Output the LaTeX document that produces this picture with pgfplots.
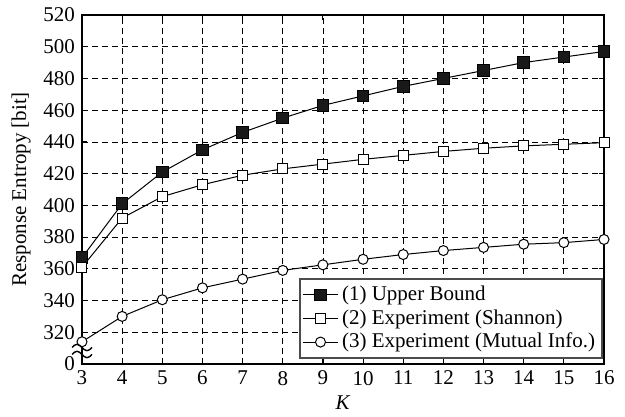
\documentclass[border=0pt]{standalone}
\usepackage{fontspec}
\setmainfont{Liberation Serif}
\usepackage{pgfplots}
\pgfplotsset{compat=1.18}
\begin{document}
\begin{tikzpicture}[font=\fontsize{10.5}{12.5}\selectfont]
\begin{axis}[
  name=ax,
  scale only axis, width=261pt, height=174.5pt,
  xmin=3, xmax=16, ymin=300, ymax=520,
  xtick={3,4,...,16},
  ytick={300,320,...,520},
  yticklabels={0,320,340,360,380,400,420,440,460,480,500,520},
  /pgf/number format/assume math mode=true,
  xlabel={\textit{K}},
  ylabel={Response Entropy [bit]},
  xlabel style={yshift=1.5pt},
  ylabel style={yshift=-0.5pt},
  tick align=inside,
  major tick length=2.5pt,
  tick style={line width=0.5pt, black},
  axis line style={line width=0.8pt},
  grid=major,
  major grid style={densely dashed, line width=0.4pt, black},
  legend cell align=left,
  legend style={at={(0.998,0.015)}, anchor=south east, draw=black!70,
    line width=0.8pt, inner sep=1.5pt, row sep=-1pt,
    font=\fontsize{10.5}{12.5}\selectfont},
  clip=false,
]
\addplot[black, line width=0.5pt, mark=square*, mark size=2.9pt,
  mark options={fill=black!90}] coordinates {
  (3,367) (4,401) (5,421) (6,435) (7,446) (8,455) (9,463) (10,469)
  (11,475) (12,480) (13,485) (14,490) (15,493.5) (16,497)};
\addlegendentry{(1) Upper Bound}
\addplot[black, line width=0.5pt, mark=square*, mark size=2.5pt,
  mark options={fill=white}] coordinates {
  (3,361) (4,392) (5,405.5) (6,413) (7,419) (8,423) (9,426) (10,429)
  (11,431.5) (12,434) (13,436) (14,437.5) (15,438.5) (16,439.5)};
\addlegendentry{(2) Experiment (Shannon)}
\addplot[black, line width=0.5pt, mark=*, mark size=2.5pt,
  mark options={fill=white}] coordinates {
  (3,314) (4,330) (5,340.5) (6,348) (7,353.5) (8,359) (9,362.5) (10,366)
  (11,369) (12,371.5) (13,373.5) (14,375.5) (15,376.5) (16,378.5)};
\addlegendentry{(3) Experiment (Mutual Info.)}
\coordinate (brk) at (axis cs:3,306);
\end{axis}
\draw[line width=0.7pt] ([xshift=-5pt]brk) sin ++(2.5pt,1.6pt) cos ++(2.5pt,-1.6pt) sin ++(2.5pt,-1.6pt) cos ++(2.5pt,1.6pt);
\draw[line width=0.7pt] ([xshift=-5pt,yshift=3.5pt]brk) sin ++(2.5pt,1.6pt) cos ++(2.5pt,-1.6pt) sin ++(2.5pt,-1.6pt) cos ++(2.5pt,1.6pt);
\path[use as bounding box] ([shift={(-41pt,-25pt)}]ax.south west) rectangle ([shift={(271.5pt,182pt)}]ax.south west);
\end{tikzpicture}
\end{document}
